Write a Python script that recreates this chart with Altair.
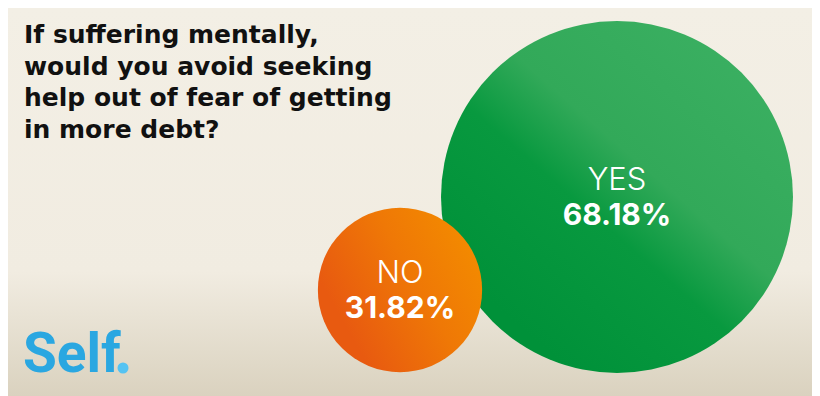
import altair as alt
import pandas as pd

# ---- data ----
answers = ["NO", "YES"]
shares = [31.82, 68.18]
title_lines = [
    "If suffering mentally,",
    "would you avoid seeking",
    "help out of fear of getting",
    "in more debt?",
]
brand = "Self"

W, H = 804, 388
FONT = "Inter"
TITLE_FONT = "DejaVu Sans"

df = pd.DataFrame({"answer": answers, "value": shares})

bg_grad = alt.LinearGradient(
    gradient="linear", x1=0, y1=0, x2=0, y2=1,
    stops=[
        alt.GradientStop(offset=0, color="#f3efe5"),
        alt.GradientStop(offset=0.68, color="#f1ece1"),
        alt.GradientStop(offset=1, color="#dad2bf"),
    ],
)
green_grad = alt.LinearGradient(
    gradient="linear", x1=0.85, y1=0.1, x2=0.2, y2=0.85,
    stops=[
        alt.GradientStop(offset=0, color="#3aaf61"),
        alt.GradientStop(offset=0.42, color="#32a959"),
        alt.GradientStop(offset=0.62, color="#08993f"),
        alt.GradientStop(offset=1, color="#009139"),
    ],
)
orange_grad = alt.LinearGradient(
    gradient="linear", x1=0.9, y1=0.15, x2=0.1, y2=0.6,
    stops=[
        alt.GradientStop(offset=0, color="#f38a00"),
        alt.GradientStop(offset=0.45, color="#ef7806"),
        alt.GradientStop(offset=1, color="#e85a10"),
    ],
)

xs = alt.X("answer:N", scale=alt.Scale(type="point", domain=answers, range=[392, 609], padding=0), axis=None)
ys = alt.Y("answer:N", scale=alt.Scale(type="point", domain=answers, range=[282, 189], padding=0), axis=None)
size = alt.Size("value:Q", scale=alt.Scale(type="pow", exponent=2, domain=[0, 68.18], range=[0, 352 * 352]), legend=None)

background = alt.Chart(pd.DataFrame({"k": [0]})).mark_rect(fill=bg_grad, stroke=None).encode(
    x=alt.value(0), x2=alt.value(W), y=alt.value(0), y2=alt.value(H)
)

base = alt.Chart(df)

green = base.transform_filter(alt.datum.answer == "YES").mark_circle(
    fill=green_grad, opacity=1, fillOpacity=1, strokeWidth=0
).encode(x=xs, y=ys, size=size)
orange = base.transform_filter(alt.datum.answer == "NO").mark_circle(
    fill=orange_grad, opacity=1, fillOpacity=1, strokeWidth=0
).encode(x=xs, y=ys, size=size)

cat_text = base.mark_text(
    font=FONT, fontSize=31, fontWeight=300, color="white", baseline="alphabetic", align="center", dy=-7
).encode(x=xs, y=ys, text="answer:N")

pct_text = base.transform_calculate(
    label="format(datum.value, '.2f') + '%'"
).mark_text(
    font=FONT, fontSize=30, fontWeight=700, color="white", baseline="alphabetic", align="center", dy=28
).encode(x=xs, y=ys, text="label:N")

title = alt.Chart(pd.DataFrame({"t": [title_lines]})).mark_text(
    font=TITLE_FONT, fontSize=25, fontWeight=700, color="#111111", align="left",
    baseline="alphabetic", lineHeight=31.5
).encode(x=alt.value(16), y=alt.value(35), text="t")

logo = alt.Chart(pd.DataFrame({"t": [brand]})).mark_text(
    font="Roboto", fontSize=55, fontWeight=700, color="#2aa7e1", align="left", baseline="alphabetic"
).encode(x=alt.value(15), y=alt.value(364), text="t")

logo_dot = alt.Chart(pd.DataFrame({"t": [brand]})).mark_circle(
    color="#55c3f2", opacity=1, size=121
).encode(x=alt.value(115), y=alt.value(360))

chart = alt.layer(
    background, green, orange, cat_text, pct_text, title, logo, logo_dot
).properties(
    width=W, height=H, padding=0, autosize=alt.AutoSizeParams(type="none")
).configure_view(strokeWidth=0).configure(background="#f3efe5")

chart.save("out.html", embed_options={"renderer": "svg", "actions": False})
